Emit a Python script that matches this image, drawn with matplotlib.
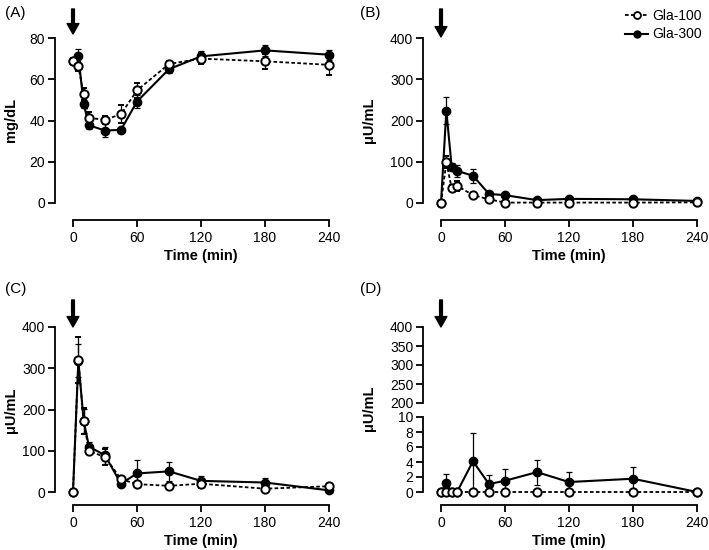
import matplotlib
matplotlib.use("Agg")
import matplotlib.pyplot as plt
from matplotlib.lines import Line2D

plt.rcParams['font.family'] = ['Liberation Sans', 'DejaVu Sans']

times = [0, 5, 10, 15, 30, 45, 60, 90, 120, 180, 240]
xticks = [0, 60, 120, 180, 240]

# Panel A (mg/dL)
a_g100 = [68.7, 66.2, 52.8, 41.3, 40.3, 43.1, 54.6, 67.4, 70.0, 68.7, 67.0]
a_g100_err = [1.5, 2, 3, 3, 2, 4.5, 3.5, 1.5, 2.5, 3.5, 5]
a_g300 = [69.0, 71.4, 47.9, 37.7, 35.1, 35.5, 49.2, 64.9, 71.1, 74.0, 71.9]
a_g300_err = [1.5, 3.5, 2, 2, 3, 1.5, 3, 2, 2.5, 2.5, 2.5]

# Panel B
b_g100 = [0, 99, 36, 42, 19, 9, 1, 1, 1, 1, 1.6]
b_g100_err = [0, 15, 8, 12, 3, 3, 1, 1, 1, 1, 1]
b_g300 = [0, 224, 88, 78, 66, 22, 19, 7, 10, 9, 5]
b_g300_err = [0, 32, 10, 15, 17, 4, 3, 2, 2, 2, 2]

# Panel C
c_g100 = [0, 320, 172, 99, 85, 31, 19, 15, 20, 8, 14]
c_g100_err = [0, 55, 32, 8, 20, 6, 4, 4, 10, 4, 3]
c_g300 = [0, 318, 172, 110, 89, 20, 45, 50, 27, 23, 4]
c_g300_err = [0, 40, 30, 12, 20, 4, 33, 23, 12, 10, 2]

# Panel D
d_g100 = [0, 0, 0, 0, 0, 0, 0, 0, 0, 0, 0]
d_g100_err = [0, 0, 0, 0, 0, 0, 0, 0, 0, 0, 0]
d_g300 = [0, 1.24, 0, 0, 4.1, 1.06, 1.5, 2.65, 1.33, 1.77, 0]
d_g300_err = [0, 1.15, 0, 0, 3.8, 1.2, 1.6, 1.65, 1.3, 1.55, 0]

W, H = 709, 550
fig = plt.figure(figsize=(W / 100, H / 100), dpi=100)


def px_axes(x0, x1, ytop, ybot):
    return fig.add_axes([x0 / W, (H - ybot) / H, (x1 - x0) / W, (ybot - ytop) / H])


FS = 10
ms = 6


def plot_series(ax, g100, e100, g300, e300):
    ax.errorbar(times, g300, yerr=e300, color='black', lw=1.5, marker='o', ms=ms,
                mfc='black', mec='black', ecolor='black', elinewidth=0.9, capsize=2.2,
                capthick=0.9, clip_on=False, zorder=3)
    ax.errorbar(times, g100, yerr=e100, color='black', lw=1.3, ls=(0, (2, 1.3)),
                marker='o', ms=ms, mfc='white', mec='black', mew=1.4, ecolor='black',
                elinewidth=0.9, capsize=2.2, capthick=0.9, clip_on=False, zorder=4)


def style(ax, ylim, yticks, xoff, show_x=True):
    ax.set_xlim(0, 240)
    ax.set_ylim(*ylim)
    ax.set_yticks(yticks)
    for s in ['top', 'right']:
        ax.spines[s].set_visible(False)
    ax.spines['left'].set_position(('outward', 13))
    ax.spines['left'].set_bounds(yticks[0], yticks[-1])
    ax.spines['left'].set_linewidth(1.3)
    ax.tick_params(axis='y', length=5, width=1.3, labelsize=FS, pad=2)
    if show_x:
        ax.spines['bottom'].set_position(('outward', xoff))
        ax.spines['bottom'].set_bounds(0, 240)
        ax.spines['bottom'].set_linewidth(1.3)
        ax.set_xticks(xticks)
        ax.tick_params(axis='x', length=5, width=1.3, labelsize=FS, pad=3)
        ax.set_xlabel('Time (min)', fontsize=FS + 0.5, fontweight='bold', labelpad=3)
    else:
        ax.spines['bottom'].set_visible(False)
        ax.set_xticks([])
    ax.patch.set_visible(False)


def arrow(ax, ytail, yhead):
    ax.annotate('', xy=(0, H - yhead), xytext=(0, H - ytail),
                xycoords=('data', 'figure pixels'), textcoords=('data', 'figure pixels'),
                arrowprops=dict(facecolor='black', edgecolor='black', width=2.0,
                                headwidth=8.5, headlength=7.5, shrink=0))


# A
axA = px_axes(73, 329, 38, 203)
plot_series(axA, a_g100, a_g100_err, a_g300, a_g300_err)
style(axA, (0, 80), [0, 20, 40, 60, 80], 12)
arrow(axA, 9, 34)

# B
axB = px_axes(441, 697, 38, 203)
plot_series(axB, b_g100, b_g100_err, b_g300, b_g300_err)
style(axB, (0, 400), [0, 100, 200, 300, 400], 12)
arrow(axB, 9, 37)

# C
axC = px_axes(73, 329, 327, 492)
plot_series(axC, c_g100, c_g100_err, c_g300, c_g300_err)
style(axC, (0, 400), [0, 100, 200, 300, 400], 9)
arrow(axC, 300, 327)

# D (broken axis)
axD = px_axes(441, 697, 417, 492)
plot_series(axD, d_g100, d_g100_err, d_g300, d_g300_err)
style(axD, (0, 10), [0, 2, 4, 6, 8, 10], 9)
axDt = px_axes(441, 697, 327, 403)
style(axDt, (200, 400), [200, 250, 300, 350, 400], 0, show_x=False)
arrow(axD, 300, 327)

# y labels
fig.text(11 / W, 1 - 120 / H, 'mg/dL', rotation=90, ha='center', va='center',
         fontsize=FS + 0.5, fontweight='bold')
fig.text(369 / W, 1 - 120 / H, 'μU/mL', rotation=90, ha='center', va='center',
         fontsize=FS + 0.5, fontweight='bold')
fig.text(11 / W, 1 - 410 / H, 'μU/mL', rotation=90, ha='center', va='center',
         fontsize=FS + 0.5, fontweight='bold')
fig.text(369 / W, 1 - 408 / H, 'μU/mL', rotation=90, ha='center', va='center',
         fontsize=FS + 0.5, fontweight='bold')

# panel labels
for lab, x, y in [('(A)', 5, 13), ('(B)', 360, 13), ('(C)', 5, 289), ('(D)', 360, 289)]:
    fig.text(x / W, 1 - y / H, lab, ha='left', va='center', fontsize=11)

# legend
h100 = Line2D([], [], color='black', lw=1.3, ls=(0, (2, 1.3)), marker='o', ms=5,
              mfc='white', mec='black', mew=1.3)
h300 = Line2D([], [], color='black', lw=1.5, marker='o', ms=5, mfc='black', mec='black')
fig.legend([h100, h300], ['Gla-100', 'Gla-300'], loc='upper right',
           bbox_to_anchor=(707 / W, 1 - 3 / H), frameon=False, fontsize=FS,
           handlelength=1.6, handletextpad=0.3, labelspacing=0.35, borderaxespad=0)

fig.savefig('out.png', dpi=100)
